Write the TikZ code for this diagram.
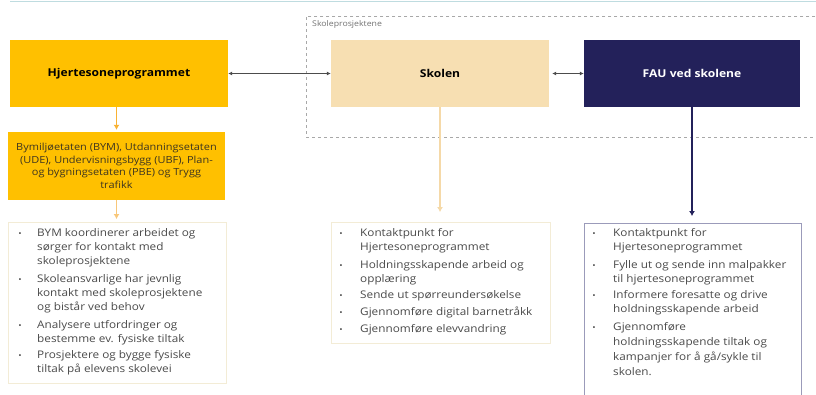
\documentclass[tikz,border=0pt]{standalone}
\usepackage{fontspec}
\setmainfont[FakeStretch=1.12]{Open Sans}
\usetikzlibrary{arrows.meta}
\definecolor{hjorange}{HTML}{FFC000}
\definecolor{skwheat}{HTML}{F7DFB2}
\definecolor{faunavy}{HTML}{23215A}
\definecolor{arrorange}{HTML}{F9B233}
\definecolor{arrlight}{HTML}{F8C77A}
\definecolor{skline}{HTML}{F5D9A8}
\definecolor{creamborder}{HTML}{F3ECD6}
\definecolor{navyborder}{HTML}{9B9BBA}
\definecolor{bultext}{HTML}{4A4A4A}
\definecolor{obtext}{HTML}{3D3520}
\definecolor{topline}{HTML}{BFDCE0}
\definecolor{dashgray}{HTML}{A8A8A8}
\begin{document}
\begin{tikzpicture}[x=1pt,y=-1pt,
  topbox/.style={minimum height=67pt, inner sep=0pt, font=\fontsize{10.8}{12}\selectfont\bfseries},
  listbox/.style={draw, line width=0.8pt, inner sep=0pt},
  bul/.style={inner sep=0pt, anchor=base west, text=bultext, font=\fontsize{10.5}{14}\selectfont},
  dot/.style={inner sep=0pt, anchor=base, text=bultext, font=\fontsize{8}{14}\selectfont},
  link/.style={draw=black!70, line width=0.8pt, {Latex[length=4pt,width=4pt]}-{Latex[length=4pt,width=4pt]}}
]
\useasboundingbox (0,0) rectangle (816,394);
\fill[white] (0,0) rectangle (816,394);
% top rule
\coordinate (tl1) at (10,1.5);
\coordinate (tl2) at (816,1.5);
\draw[topline, line width=1.2pt] (tl1) -- (tl2);
% dashed project frame
\node[draw=dashgray, dashed, line width=0.7pt, minimum width=530pt, minimum height=121pt, anchor=north west, inner sep=0pt] (frame) at (306,16) {};
\node[anchor=west, inner sep=0pt, text=black!55, font=\fontsize{7.8}{8}\selectfont] (framelbl) at (312,24) {Skoleprosjektene};
% top boxes
\node[topbox, fill=hjorange, minimum width=218pt] (hj) at (119,73.5) {Hjertesoneprogrammet};
\node[topbox, fill=skwheat, minimum width=218pt] (sk) at (440,73.5) {Skolen};
\node[topbox, fill=faunavy, text=white, minimum width=216pt] (fau) at (692,73.5) {FAU ved skolene};
\draw[link] (hj.east) -- (sk.west);
\draw[link, shorten <=3pt] (sk.east) -- (fau.west);
% orange agencies box
\node[fill=hjorange, minimum width=217pt, minimum height=68pt, inner sep=0pt, align=center, text=obtext, font=\fontsize{9.8}{12.6}\selectfont] (ob) at (116.5,166)
  {Bymiljøetaten (BYM), Utdanningsetaten\\(UDE), Undervisningsbygg (UBF), Plan-\\og bygningsetaten (PBE) og Trygg\\trafikk};
\draw[arrorange, line width=1.6pt, -{Latex[length=5pt,width=6pt]}, shorten >=2pt] (hj.south -| ob.north) -- (ob.north);
% list boxes
\node[listbox, draw=creamborder, minimum width=218pt, minimum height=161pt, anchor=north west] (lb) at (8,222) {};
\node[listbox, draw=creamborder, minimum width=219pt, minimum height=121pt, anchor=north west] (mb) at (331,222) {};
\node[listbox, draw=navyborder, line width=1pt, minimum width=217pt, minimum height=190pt, anchor=north west] (rb) at (584,223) {};
\draw[arrlight, line width=1.6pt, -{Latex[length=5pt,width=6pt]}, shorten >=3pt] (ob.south) -- (lb.north -| ob.south);
\draw[skline, line width=1.6pt, -{Latex[length=5pt,width=6pt]}, shorten >=10pt] (sk.south) -- (mb.north -| sk.south);
\draw[faunavy, line width=1.6pt, -{Latex[length=5pt,width=6pt]}, shorten >=7pt] (fau.south) -- (rb.north -| fau.south);
% left list
\foreach \y [count=\i] in {236.2,282.5,328.5,358.5}
  \node[dot] (ld\i) at (20,\y) {•};
\foreach \t/\y [count=\i] in {{BYM koordinerer arbeidet og}/236.2, {sørger for kontakt med}/250.8, {skoleprosjektene}/264.5,
  {Skoleansvarlige har jevnlig}/282.5, {kontakt med skoleprosjektene}/296.5, {og bistår ved behov}/310.8,
  {Analysere utfordringer og}/328.5, {bestemme ev. fysiske tiltak}/342.2,
  {Prosjektere og bygge fysiske}/358.5, {tiltak på elevens skolevei}/372.8}
  \node[bul] (lt\i) at (37,\y) {\t};
% middle list
\foreach \y [count=\i] in {236.8,268.5,298.8,315.5,332.2}
  \node[dot] (md\i) at (341,\y) {•};
\foreach \t/\y [count=\i] in {{Kontaktpunkt for}/236.8, {Hjertesoneprogrammet}/250.8,
  {Holdningsskapende arbeid og}/268.5, {opplæring}/282.5,
  {Sende ut spørreundersøkelse}/298.8, {Gjennomføre digital barnetråkk}/315.5,
  {Gjennomføre elevvandring}/332.2}
  \node[bul] (mt\i) at (360,\y) {\t};
% right list
\foreach \y [count=\i] in {236.8,268.5,298.8,330.2}
  \node[dot] (rd\i) at (594,\y) {•};
\foreach \t/\y [count=\i] in {{Kontaktpunkt for}/236.8, {Hjertesoneprogrammet}/250.8,
  {Fylle ut og sende inn malpakker}/268.5, {til hjertesoneprogrammet}/282.5,
  {Informere foresatte og drive}/298.8, {holdningsskapende arbeid}/312.8,
  {Gjennomføre}/330.2, {holdningsskapende tiltak og}/345.2, {kampanjer for å gå/sykle til}/360.2, {skolen.}/375.2}
  \node[bul] (rt\i) at (613,\y) {\t};
\end{tikzpicture}
\end{document}
